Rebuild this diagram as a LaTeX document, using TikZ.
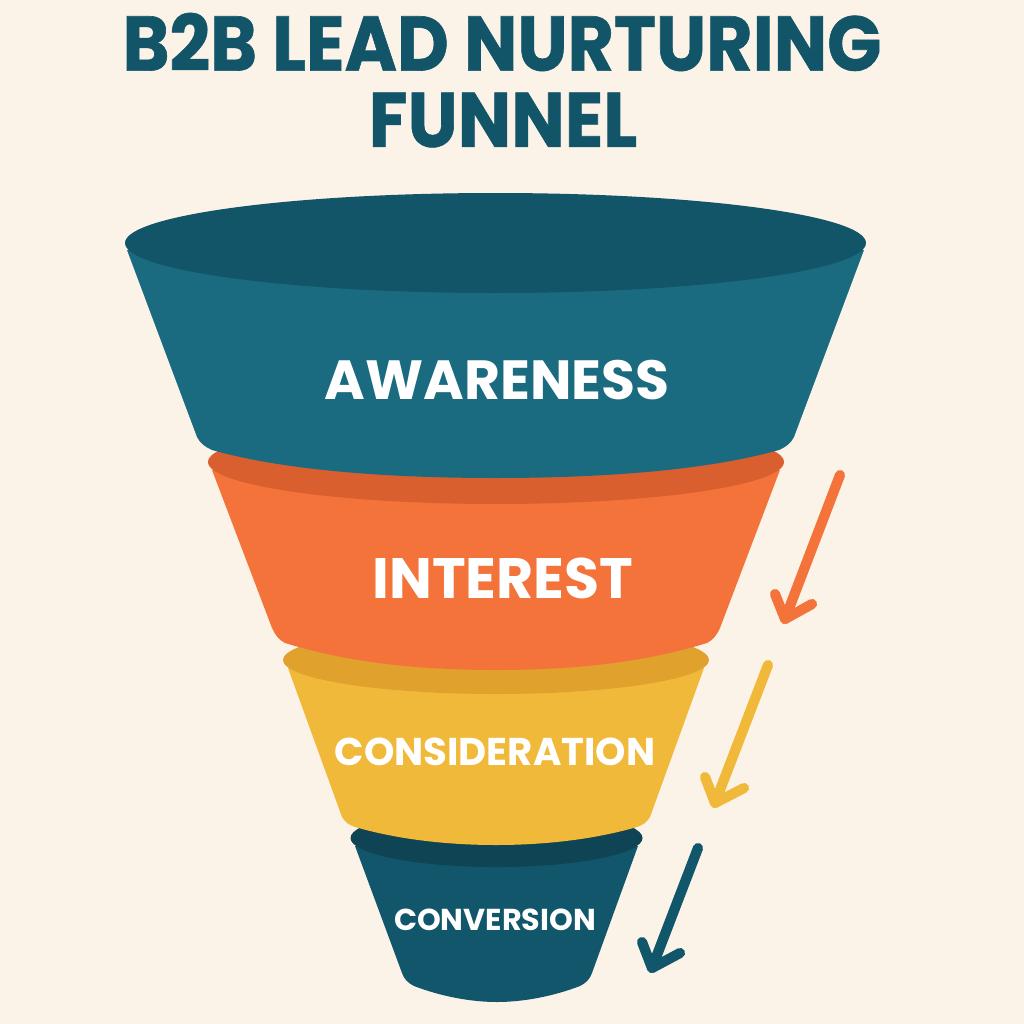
\documentclass[tikz,border=0pt]{standalone}
\usepackage{fontspec}
\setmainfont{Poppins}
\newfontfamily\ttlf{Poppins}[UprightFont=* Bold,FakeBold=0.8,FakeStretch=0.92]
\definecolor{bgc}{HTML}{FCF3E8}
\definecolor{teal1}{HTML}{1A6A80}
\definecolor{teal2}{HTML}{125468}
\definecolor{org1}{HTML}{F4733A}
\definecolor{org2}{HTML}{D95F2E}
\definecolor{yel1}{HTML}{F1B93A}
\definecolor{yel2}{HTML}{E1A12D}
\definecolor{dk1}{HTML}{12566B}
\definecolor{dk2}{HTML}{0E4454}
\tikzset{
 px/.style={x=0.01cm,y=-0.01cm},
 arr/.style={line width=2.9pt,line cap=round,line join=round},
 lab/.style={text=white,font=\fontsize{#1}{#1}\selectfont\bfseries,inner sep=0},
 ttl/.style={text=teal2,font=\fontsize{22}{22}\ttlf,inner sep=0}
}
\begin{document}
\begin{tikzpicture}[px]
\fill[bgc] (0,0) rectangle (1024,1024);
\useasboundingbox (0,0) rectangle (1024,1024);
\node[ttl] (t1) at (502,42) {B2B LEAD NURTURING};
\node[ttl] (t2) at (503,120) {FUNNEL};
% conversion
\fill[dk1] (355,846) -- (402,973) .. controls (404,979) and (408,983) .. (414,986) .. controls (440,996) and (470,1002) .. (497,1002) .. controls (524,1002) and (554,996) .. (580,986) .. controls (586,983) and (590,979) .. (592,973) -- (638,846) -- cycle;
\fill[dk2] (496.5,838) ellipse (146 and 29);
% consideration
\fill[yel1] (288,668) -- (342,817) .. controls (345,822) and (349,825) .. (355,827) .. controls (400,840) and (450,845) .. (496,845) .. controls (542,845) and (592,840) .. (637,827) .. controls (643,825) and (647,822) .. (650,817) -- (704,668) -- cycle;
\fill[yel2] (496,660) ellipse (213 and 34);
% interest
\fill[org1] (212,470) -- (272,628) .. controls (275,635) and (279,640) .. (285,643) .. controls (350,663) and (420,670) .. (496,670) .. controls (572,670) and (642,663) .. (707,643) .. controls (713,640) and (717,635) .. (720,628) -- (780,470) -- cycle;
\fill[org2] (496,462) ellipse (288 and 42);
% awareness
\fill[teal1] (127,250) -- (197,437) .. controls (200,443) and (205,447) .. (212,450) .. controls (290,472) and (400,478) .. (495.5,478) .. controls (591,478) and (701,472) .. (779,450) .. controls (786,447) and (791,443) .. (794,437) -- (864,250) -- cycle;
\fill[teal2] (495.5,243) ellipse (370.5 and 50);
\node[lab=15.7] (a) at (497,380) {AWARENESS};
\node[lab=16.2] (b) at (503,578) {INTEREST};
\node[lab=11] (c) at (495,752) {CONSIDERATION};
\node[lab=8.6] (d) at (495,920) {CONVERSION};
\coordinate (a1s) at (840,475); \coordinate (a1e) at (785,619);
\draw[arr,org1] (a1s) -- (a1e);
\draw[arr,org1] (775,594) -- (a1e) -- (812,604);
\coordinate (a2s) at (768,665); \coordinate (a2e) at (715,803);
\draw[arr,yel1] (a2s) -- (a2e);
\draw[arr,yel1] (705,777) -- (a2e) -- (744,788);
\coordinate (a3s) at (698,848); \coordinate (a3e) at (652,968);
\draw[arr,dk1] (a3s) -- (a3e);
\draw[arr,dk1] (642,942) -- (a3e) -- (680,953);
\end{tikzpicture}
\end{document}
